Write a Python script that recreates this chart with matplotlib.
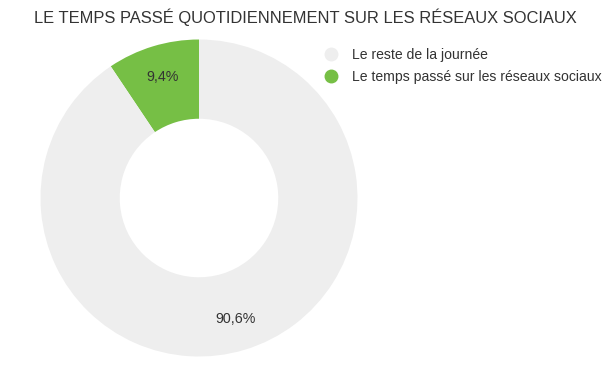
import matplotlib.pyplot as plt
from matplotlib.lines import Line2D

plt.rcParams["font.family"] = ["Liberation Sans", "DejaVu Sans"]

title = "LE TEMPS PASSÉ QUOTIDIENNEMENT SUR LES RÉSEAUX SOCIAUX"
labels = ["Le temps passé sur les réseaux sociaux", "Le reste de la journée"]
values = [9.4, 90.6]
colors = ["#76bf45", "#eeeeee"]
legend_order = [1, 0]

W, H = 610, 367
fig = plt.figure(figsize=(W / 100, H / 100), dpi=100)

cx, cy, r = 199, 198, 158.5
ax = fig.add_axes([(cx - r) / W, (H - cy - r) / H, 2 * r / W, 2 * r / H])
wedges, _, autotexts = ax.pie(
    values,
    colors=colors,
    startangle=90,
    counterclock=True,
    radius=1,
    wedgeprops=dict(width=0.5, linewidth=0),
    autopct=lambda p: f"{p:.1f}%".replace(".", ","),
    pctdistance=0.795,
    textprops=dict(fontsize=10.3, color="#333333"),
)
ax.set_xlim(-1, 1)
ax.set_ylim(-1, 1)
ax.set_aspect("equal")
ax.axis("off")

fig.text(0.5, 1 - 17 / H, title, ha="center", va="center", fontsize=11.9, color="#333333")

handles = [
    Line2D([], [], marker="o", linestyle="none", markersize=9,
           markerfacecolor=colors[i], markeredgecolor=colors[i])
    for i in legend_order
]
fig.legend(
    handles,
    [labels[i] for i in legend_order],
    loc="upper left",
    bbox_to_anchor=(311 / W, 1 - 35 / H),
    frameon=False,
    fontsize=10.1,
    labelcolor="#333333",
    handletextpad=1.05,
    labelspacing=0.6,
    handlelength=1.0,
)

fig.savefig("out.png", dpi=100)
